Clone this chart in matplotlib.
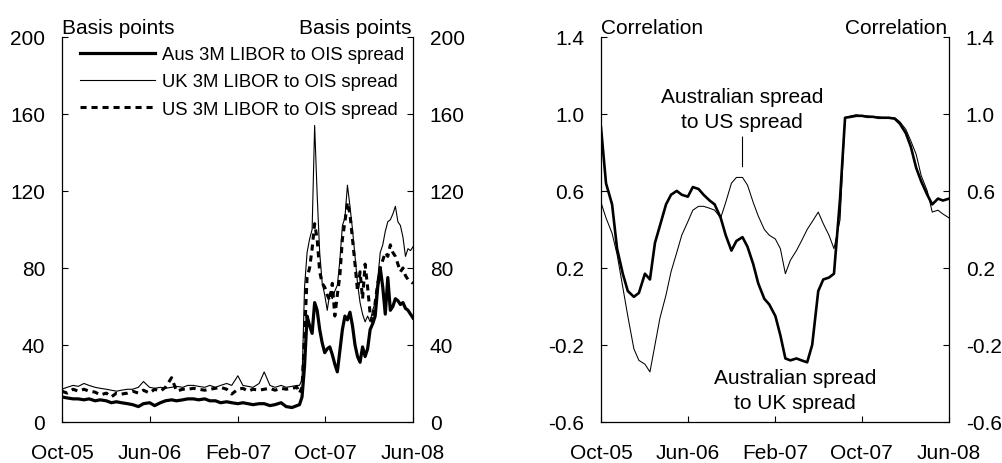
import numpy as np
import pandas as pd
import matplotlib
matplotlib.use('Agg')
import matplotlib.pyplot as plt
import matplotlib.dates as mdates

plt.rcParams['font.family'] = ['Liberation Sans', 'DejaVu Sans']
plt.rcParams['axes.unicode_minus'] = False

# ---- left panel: LIBOR-OIS spreads (basis points) ----
calm_dates = pd.date_range('2005-10-01', '2007-07-15', freq='SMS')
turb_dates = pd.date_range('2007-07-22', '2008-06-01', freq='W')
spread_dates = calm_dates.append(turb_dates)

aus_calm = [13, 12.5, 12, 12, 11.5, 12, 11, 11.5, 11, 10, 10.5, 10, 9.5, 9, 8, 9.5,
            10, 8.5, 10, 11, 11.5, 11, 11.5, 12, 12, 11.5, 12, 11, 11, 10, 10.5, 10,
            9.5, 10, 9.5, 9, 9.5, 9.5, 8.5, 9, 10, 8, 7.5, 8.5]
uk_calm = [17, 18, 19, 18.5, 20, 19, 18, 17.5, 17, 16.5, 16, 16.5, 17, 17, 18, 21,
           18, 17.5, 18, 17.5, 18, 18.5, 18, 19, 19, 18.5, 18, 19, 18, 19, 20, 19,
           24, 19, 18.5, 18, 20, 26, 19, 18, 19, 18, 18.5, 19]
us_calm = [16, 15, 17, 16, 17, 16, 15.5, 14, 15, 13, 15, 14.5, 15, 16, 15, 16.5,
           15, 17, 16, 18, 23, 16, 17, 17, 17.5, 17, 16.5, 17, 17.5, 18, 17, 14.5,
           17, 17.5, 16, 17, 16.5, 17, 17.5, 16.5, 17.5, 17, 17.5, 18]

aus_turb = [9, 13, 29, 55, 50, 46, 62, 58, 48, 41, 36, 38, 39, 35, 30, 26,
            37, 48, 55, 53, 57, 50, 40, 34, 31, 39, 34, 38, 48, 51, 55, 70,
            80, 70, 56, 75, 58, 60, 64, 63, 61, 62, 59, 58, 56, 54]
uk_turb = [19, 22, 70, 88, 95, 100, 154, 118, 88, 72, 66, 58, 67, 64, 68, 71,
           84, 102, 106, 123, 112, 100, 86, 72, 62, 56, 52, 55, 52, 58, 62, 74,
           88, 92, 99, 104, 105, 108, 112, 104, 102, 96, 86, 90, 89, 91]
us_turb = [15, 18, 45, 75, 80, 90, 103, 95, 78, 72, 70, 66, 63, 72, 55, 66,
           76, 95, 104, 114, 108, 95, 82, 68, 78, 64, 82, 70, 56, 52, 62, 72,
           80, 84, 88, 86, 92, 88, 86, 82, 78, 80, 76, 74, 73, 72]

aus_spread = np.array(aus_calm + aus_turb)
uk_spread = np.array(uk_calm + uk_turb)
us_spread = np.array(us_calm + us_turb)

# ---- right panel: rolling correlations ----
corr_dates = pd.date_range('2005-10-01', '2008-06-01', freq='SMS')
aus_uk_corr = [0.93, 0.64, 0.53, 0.30, 0.17, 0.08, 0.05, 0.07, 0.17, 0.14, 0.33, 0.42,
               0.53, 0.58, 0.60, 0.58, 0.57, 0.62, 0.61, 0.58, 0.55, 0.53, 0.46, 0.37,
               0.29, 0.34, 0.36, 0.31, 0.22, 0.12, 0.04, 0.01, -0.05, -0.15, -0.27, -0.28,
               -0.27, -0.28, -0.29, -0.20, 0.08, 0.14, 0.15, 0.17, 0.56, 0.98, 0.985, 0.99,
               0.99, 0.985, 0.985, 0.98, 0.98, 0.98, 0.975, 0.95, 0.90, 0.83, 0.72, 0.65,
               0.58, 0.53, 0.56, 0.55, 0.56]
aus_us_corr = [0.54, 0.46, 0.38, 0.27, 0.10, -0.05, -0.22, -0.28, -0.30, -0.34, -0.20, -0.06,
               0.06, 0.18, 0.28, 0.37, 0.44, 0.50, 0.52, 0.52, 0.51, 0.50, 0.46, 0.54,
               0.64, 0.67, 0.67, 0.63, 0.54, 0.47, 0.40, 0.37, 0.35, 0.30, 0.17, 0.24,
               0.29, 0.34, 0.40, 0.44, 0.49, 0.43, 0.37, 0.30, 0.45, 0.98, 0.99, 0.995,
               0.99, 0.99, 0.985, 0.985, 0.98, 0.98, 0.98, 0.96, 0.92, 0.86, 0.79, 0.68,
               0.60, 0.49, 0.50, 0.48, 0.46]

xticks = pd.to_datetime(['2005-10-01', '2006-06-01', '2007-02-01', '2007-10-01', '2008-06-01'])
xlim = (pd.Timestamp('2005-10-01'), pd.Timestamp('2008-06-01'))


def style_axes(ax, yticks, fmt, unit):
    ax.set_xlim(*xlim)
    ax.set_ylim(yticks[0], yticks[-1])
    ax.set_yticks(yticks)
    ax.set_yticklabels([fmt % v for v in yticks])
    ax.set_xticks(xticks)
    ax.xaxis.set_major_formatter(mdates.DateFormatter('%b-%y'))
    ax.spines['top'].set_visible(False)
    for s in ['left', 'right', 'bottom']:
        ax.spines[s].set_linewidth(0.9)
    ax.tick_params(axis='y', direction='in', length=4.5, width=0.8, left=True, right=True,
                   labelleft=True, labelright=True, pad=12, labelsize=15)
    ax.tick_params(axis='x', direction='in', length=4.5, width=0.8, pad=15, labelsize=15)
    ax.text(0.0, 1.01, unit, transform=ax.transAxes, ha='left', va='baseline', fontsize=15)
    ax.text(0.995, 1.01, unit, transform=ax.transAxes, ha='right', va='baseline', fontsize=15)


fig = plt.figure(figsize=(10.03, 4.64), dpi=100)
ax1 = fig.add_axes([0.0618, 0.0884, 0.350, 0.830])
ax2 = fig.add_axes([0.5992, 0.0884, 0.347, 0.830])

ax1.plot(spread_dates, aus_spread, color='black', lw=2.3, label='Aus 3M LIBOR to OIS spread')
ax1.plot(spread_dates, uk_spread, color='black', lw=0.8, label='UK 3M LIBOR to OIS spread')
ax1.plot(spread_dates, us_spread, color='black', lw=2.2, linestyle=(0, (2, 1.6)),
         label='US 3M LIBOR to OIS spread')
style_axes(ax1, [0, 40, 80, 120, 160, 200], '%d', 'Basis points')
ax1.legend(loc='upper left', bbox_to_anchor=(0.04, 0.985), frameon=False, fontsize=13.3,
           handlelength=4.1, handletextpad=0.35, labelspacing=0.55, borderaxespad=0,
           borderpad=0.2)

ax2.plot(corr_dates, aus_uk_corr, color='black', lw=1.9)
ax2.plot(corr_dates, aus_us_corr, color='black', lw=0.75)
style_axes(ax2, [-0.6, -0.2, 0.2, 0.6, 1.0, 1.4], '%.1f', 'Correlation')

ax2.text(0.405, 0.813, 'Australian spread\nto US spread', transform=ax2.transAxes,
         ha='center', va='center', fontsize=15, linespacing=1.45)
ax2.annotate('', xy=(pd.Timestamp('2006-11-01'), 0.725), xytext=(pd.Timestamp('2006-11-01'), 0.88),
             arrowprops=dict(arrowstyle='-', lw=0.8, color='black', shrinkA=0, shrinkB=0))
ax2.text(0.557, 0.083, 'Australian spread\nto UK spread', transform=ax2.transAxes,
         ha='center', va='center', fontsize=15, linespacing=1.45)

fig.savefig('out.png', dpi=100)
